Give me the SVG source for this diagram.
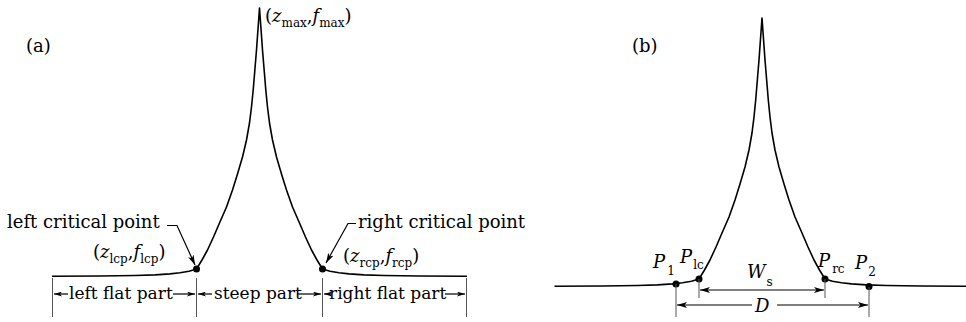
<svg xmlns="http://www.w3.org/2000/svg" width="966" height="322" viewBox="0 0 966 322">
<style>
.t{font-family:"DejaVu Serif","Liberation Serif",serif;font-size:18px;fill:#000}
.s{font-size:17px}
.i{font-style:italic}
.sb{font-size:12px}
.crv{fill:none;stroke:#000;stroke-width:1.6;stroke-linejoin:round}
.tk{stroke:#555;stroke-width:1}
.ln{stroke:#000;stroke-width:1.2;fill:none}
</style>
<defs>
<marker id="ah" viewBox="0 0 10 6" refX="10" refY="3" markerWidth="10" markerHeight="6" markerUnits="userSpaceOnUse" orient="auto-start-reverse"><path d="M0,0 L10,3 L0,6 L2.5,3 Z" fill="#000"/></marker>
<marker id="sh" viewBox="0 0 10 6" refX="10" refY="3" markerWidth="8" markerHeight="5" markerUnits="userSpaceOnUse" orient="auto-start-reverse"><path d="M0,0 L10,3 L0,6 L2.5,3 Z" fill="#000"/></marker>
<polyline id="peak" class="crv" points="52,276.3 100,276 135,275.5 155,274.9 170,273.9 180,272.8 189,271.3 196.5,269 202,260 207.5,250 213.5,237 219.5,223 226.5,207 232.5,190 237.5,174 242.5,157 246.5,140 249.5,123 251.5,107 253.2,90 256.5,50 259.5,8 262.5,50 265.8,90 267.5,107 269.5,123 272.5,140 276.5,157 281.5,174 286.5,190 292.5,207 299.5,223 305.5,237 311.5,250 317,260 322.5,269 330,271.3 339,272.8 349,273.9 364,274.9 384,275.5 419,276 467,276.3"/>
</defs>

<g id="panel-a">
  <text class="t" x="26" y="52">(a)</text>
  <g id="curve-a"><use href="#peak"/></g>
  <g id="max-label"><text class="t" x="265" y="22">(<tspan class="i">z</tspan><tspan class="sb" dy="5">max</tspan><tspan dy="-5">,</tspan><tspan class="i">f</tspan><tspan class="sb" dy="5">max</tspan><tspan dy="-5">)</tspan></text></g>
  <g id="lcp">
    <circle cx="196.5" cy="269" r="3.5"/>
    <text class="t" x="7" y="228">left critical point</text>
    <text class="t" x="93" y="258">(<tspan class="i">z</tspan><tspan class="sb" dy="5">lcp</tspan><tspan dy="-5">,</tspan><tspan class="i">f</tspan><tspan class="sb" dy="5">lcp</tspan><tspan dy="-5">)</tspan></text>
  </g>
  <g id="rcp">
    <circle cx="322.5" cy="269" r="3.5"/>
    <text class="t" x="358" y="228">right critical point</text>
    <text class="t" x="343" y="262">(<tspan class="i">z</tspan><tspan class="sb" dy="5">rcp</tspan><tspan dy="-5">,</tspan><tspan class="i">f</tspan><tspan class="sb" dy="5">rcp</tspan><tspan dy="-5">)</tspan></text>
  </g>
  <g id="ticks-a">
    <line class="tk" x1="52.5" y1="278" x2="52.5" y2="317"/>
    <line class="tk" x1="196.5" y1="278" x2="196.5" y2="317"/>
    <line class="tk" x1="322.5" y1="278" x2="322.5" y2="317"/>
    <line class="tk" x1="466.5" y1="278" x2="466.5" y2="317"/>
  </g>
  <g id="parts">
    <text class="t s" x="69" y="299">left flat part</text>
    <text class="t s" x="214" y="299">steep part</text>
    <text class="t s" x="329" y="299">right flat part</text>
  </g>
</g>

<g id="panel-b">
  <text class="t" x="632" y="52">(b)</text>
  <g id="curve-b"><use href="#peak" transform="translate(502.5,10)"/></g>
  <g id="points-b">
    <circle cx="676" cy="284" r="3.5"/>
    <circle cx="699" cy="279" r="3.5"/>
    <circle cx="825" cy="279" r="3.5"/>
    <circle cx="869" cy="286.5" r="3.5"/>
    <text class="t i" x="653" y="268">P<tspan class="sb" font-style="normal" dy="7" dx="2">1</tspan></text>
    <text class="t i" x="680" y="263">P<tspan class="sb" font-style="normal" dy="6" dx="1">lc</tspan></text>
    <text class="t i" x="818" y="267">P<tspan class="sb" font-style="normal" dy="6" dx="2">rc</tspan></text>
    <text class="t i" x="855" y="269">P<tspan class="sb" font-style="normal" dy="7" dx="1">2</tspan></text>
  </g>
  <g id="ticks-b">
    <line class="tk" x1="676" y1="284" x2="676" y2="317"/>
    <line class="tk" x1="699" y1="279" x2="699" y2="298"/>
    <line class="tk" x1="825" y1="279" x2="825" y2="298"/>
    <line class="tk" x1="869" y1="287" x2="869" y2="317"/>
  </g>
  <text class="t i" x="747" y="278">W<tspan class="sb" font-style="normal" dy="8" dx="1">s</tspan></text>
  <text class="t i" x="755" y="312">D</text>
</g>

<g id="connectors">
  <polyline class="ln" points="167,225.5 177,225.5 195,265" marker-end="url(#ah)"/>
  <polyline class="ln" points="356,223.5 348,223.5 326,263" marker-end="url(#ah)"/>
  <line class="ln" x1="68" y1="294" x2="54" y2="294" marker-end="url(#sh)"/>
  <line class="ln" x1="173" y1="294" x2="195" y2="294" marker-end="url(#sh)"/>
  <line class="ln" x1="212" y1="294" x2="198" y2="294" marker-end="url(#sh)"/>
  <line class="ln" x1="297" y1="294" x2="321" y2="294" marker-end="url(#sh)"/>
  <line class="ln" x1="331" y1="294" x2="324" y2="294" marker-end="url(#sh)"/>
  <line class="ln" x1="445" y1="294" x2="465" y2="294" marker-end="url(#sh)"/>
  <line class="ln" x1="700" y1="290" x2="824" y2="290" marker-start="url(#ah)" marker-end="url(#ah)"/>
  <line class="ln" x1="677" y1="305" x2="752" y2="305" marker-start="url(#ah)"/>
  <line class="ln" x1="777" y1="305" x2="868" y2="305" marker-end="url(#ah)"/>
</g>
</svg>
